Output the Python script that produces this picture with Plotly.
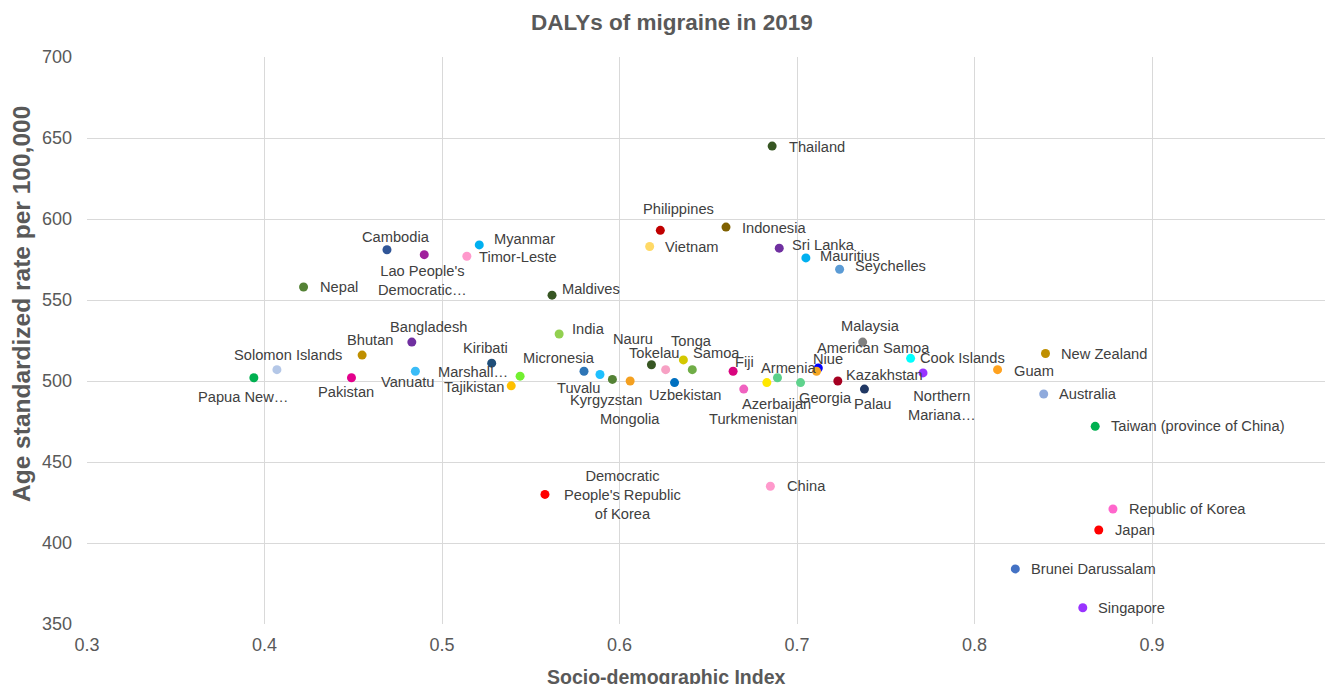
import plotly.graph_objects as go

# ---------------- data ----------------
countries = [
    "Papua New Guinea", "Solomon Islands", "Pakistan", "Bhutan", "Bangladesh",
    "Vanuatu", "Kiribati", "Marshall Islands", "Tajikistan", "Cambodia",
    "Lao People's Democratic Republic", "Nepal", "Myanmar", "Timor-Leste", "Maldives",
    "India", "Micronesia", "Tuvalu", "Kyrgyzstan", "Mongolia",
    "Nauru", "Tokelau", "Tonga", "Samoa", "Uzbekistan",
    "Fiji", "Turkmenistan", "Azerbaijan", "Armenia", "Georgia",
    "Niue", "American Samoa", "Kazakhstan", "Malaysia", "Palau",
    "Cook Islands", "Northern Mariana Islands", "Guam", "New Zealand", "Australia",
    "Taiwan (province of China)", "Republic of Korea", "Japan", "Brunei Darussalam", "Singapore",
    "China", "Democratic People's Republic of Korea", "Thailand", "Philippines", "Indonesia",
    "Vietnam", "Sri Lanka", "Mauritius", "Seychelles",
]
sdi = [
    0.394, 0.407, 0.449, 0.455, 0.483,
    0.485, 0.528, 0.544, 0.539, 0.469,
    0.490, 0.422, 0.521, 0.514, 0.562,
    0.566, 0.580, 0.589, 0.596, 0.606,
    0.618, 0.626, 0.636, 0.641, 0.631,
    0.664, 0.670, 0.683, 0.689, 0.702,
    0.712, 0.711, 0.723, 0.737, 0.738,
    0.764, 0.771, 0.813, 0.840, 0.839,
    0.868, 0.878, 0.870, 0.823, 0.861,
    0.685, 0.558, 0.686, 0.623, 0.660,
    0.617, 0.690, 0.705, 0.724,
]
rate = [
    502, 507, 502, 516, 524,
    506, 511, 503, 497, 581,
    578, 558, 584, 577, 553,
    529, 506, 504, 501, 500,
    510, 507, 513, 507, 499,
    506, 495, 499, 502, 499,
    508, 506, 500, 524, 495,
    514, 505, 507, 517, 492,
    472, 421, 408, 384, 360,
    435, 430, 645, 593, 595,
    583, 582, 576, 569,
]
labels = [
    "Papua New…", "Solomon Islands", "Pakistan", "Bhutan", "Bangladesh",
    "Vanuatu", "Kiribati", "Marshall…", "Tajikistan", "Cambodia",
    "Lao People's<br>Democratic…", "Nepal", "Myanmar", "Timor-Leste", "Maldives",
    "India", "Micronesia", "Tuvalu", "Kyrgyzstan", "Mongolia",
    "Nauru", "Tokelau", "Tonga", "Samoa", "Uzbekistan",
    "Fiji", "Turkmenistan", "Azerbaijan", "Armenia", "Georgia",
    "Niue", "American Samoa", "Kazakhstan", "Malaysia", "Palau",
    "Cook Islands", "Northern<br>Mariana…", "Guam", "New Zealand", "Australia",
    "Taiwan (province of China)", "Republic of Korea", "Japan", "Brunei Darussalam", "Singapore",
    "China", "Democratic<br>People's Republic<br>of Korea", "Thailand", "Philippines", "Indonesia",
    "Vietnam", "Sri Lanka", "Mauritius", "Seychelles",
]
x_ticks = [0.3, 0.4, 0.5, 0.6, 0.7, 0.8, 0.9]
y_ticks = [350, 400, 450, 500, 550, 600, 650, 700]

# ---------------- styles ----------------
colors = [
    "#00b050", "#b4c7e7", "#e3008c", "#bf8f00", "#7030a0",
    "#3bbcf7", "#1f4e79", "#72f030", "#ffc000", "#2f5597",
    "#a0209c", "#548235", "#00b0f0", "#ff99cc", "#375623",
    "#92d050", "#2e75b6", "#1ec0ff", "#548235", "#f4a020",
    "#375623", "#f7a1c4", "#d4c800", "#70ad47", "#0070c0",
    "#d9057f", "#f062c0", "#ffe800", "#5ad08a", "#5fd38d",
    "#0000ff", "#f5a623", "#a50021", "#808080", "#203864",
    "#00ffff", "#9933ff", "#ffa21f", "#bf8f00", "#8faadc",
    "#00b050", "#ff66cc", "#ff0000", "#4472c4", "#9933ff",
    "#ff99cc", "#ff0000", "#375623", "#c00000", "#7f6000",
    "#ffd966", "#7030a0", "#00b0f0", "#5b9bd5",
]
# label placement: (anchor, dx, dy) in screen pixels from the point (dy positive = down)
placement = [
    ("c", -11, 19), ("c", 11, -15), ("c", -5, 14), ("c", 8, -15), ("c", 17, -15),
    ("c", -7, 11), ("c", -6, -15), ("r", -10, -4), ("r", -5, 1), ("c", 9, -13),
    ("c", -2, 26), ("l", 14, 0), ("l", 13, -6), ("l", 10, 1), ("l", 8, -6),
    ("l", 11, -5), ("c", -25, -13), ("c", -21, 13), ("c", -6, 21), ("c", 0, 38),
    ("c", -18, -26), ("c", -11, -17), ("c", 8, -19), ("c", 24, -17), ("c", 11, 12),
    ("c", 11, -9), ("c", 9, 30), ("c", 10, 21), ("c", 11, -10), ("c", 25, 15),
    ("c", 10, -9), ("c", 57, -23), ("l", 6, -6), ("c", 8, -16), ("c", 9, 15),
    ("l", 7, 0), ("c", 19, 33), ("l", 14, 1), ("l", 13, 1), ("l", 13, 0),
    ("l", 14, 0), ("l", 14, 0), ("l", 14, 0), ("l", 14, 0), ("l", 13, 0),
    ("l", 15, 0), ("c", 78, 1), ("l", 15, 1), ("c", 18, -21), ("l", 14, 1),
    ("l", 13, 0), ("l", 11, -3), ("l", 12, -2), ("l", 13, -3),
]

FONT = "Liberation Sans, Arial, sans-serif"
GREY = "#595959"
LABEL = "#404040"

fig = go.Figure()
fig.add_trace(go.Scatter(
    x=sdi, y=rate, mode="markers", text=countries,
    marker=dict(size=9, color=colors, line=dict(width=0)),
    hovertemplate="%{text}<br>SDI %{x}<br>%{y}<extra></extra>",
    showlegend=False,
))

anchor_map = {"l": "left", "r": "right", "c": "center"}
for xv, yv, lab, (a, dx, dy) in zip(sdi, rate, labels, placement):
    fig.add_annotation(
        x=xv, y=yv, xref="x", yref="y", text=lab, showarrow=False,
        xanchor=anchor_map[a], yanchor="middle", xshift=dx, yshift=-dy,
        align="center", font=dict(family=FONT, size=14.67, color=LABEL),
    )

# axis titles
fig.add_annotation(
    text="Socio-demographic Index", xref="paper", yref="paper",
    x=(666 - 87) / 1238, y=(624 - 677) / 567, xanchor="center", yanchor="middle",
    showarrow=False, font=dict(family=FONT, size=19.5, color=GREY, weight="bold"),
)
fig.add_annotation(
    text="Age standardized rate per 100,000", xref="paper", yref="paper",
    x=(21 - 87) / 1238, y=(624 - 304) / 567, xanchor="center", yanchor="middle",
    textangle=-90, showarrow=False,
    font=dict(family=FONT, size=24.5, color=GREY, weight="bold"),
)

fig.update_layout(
    width=1325, height=684,
    margin=dict(l=87, r=0, t=57, b=60),
    paper_bgcolor="white", plot_bgcolor="white",
    title=dict(
        text="DALYs of migraine in 2019", x=672 / 1325, xref="container",
        y=1 - 22 / 684, yref="container", xanchor="center", yanchor="middle",
        font=dict(family=FONT, size=22.5, color=GREY, weight="bold"),
    ),
    xaxis=dict(
        range=[0.3, 0.3 + 1238 / 1775], tickvals=x_ticks,
        ticktext=[str(v) for v in x_ticks],
        showgrid=True, gridcolor="#d9d9d9", gridwidth=1,
        zeroline=False, showline=False, ticks="",
        tickfont=dict(family=FONT, size=18, color=GREY),
        ticklabelstandoff=8,
    ),
    yaxis=dict(
        range=[350, 700], tickvals=y_ticks,
        showgrid=True, gridcolor="#d9d9d9", gridwidth=1,
        zeroline=False, showline=False, ticks="",
        tickfont=dict(family=FONT, size=18, color=GREY),
        ticklabelstandoff=14,
    ),
)

fig.write_html(
    "out.html",
    config={"displayModeBar": False},
    post_script="document.body.style.margin='0';document.body.style.overflow='hidden';",
)
